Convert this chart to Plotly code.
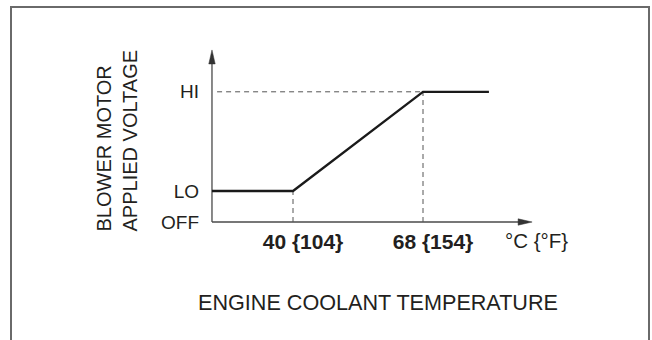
import plotly.graph_objects as go

# Blower motor voltage vs. engine coolant temperature (schematic)
level_names = ["OFF", "LO", "HI"]
level_values = [0, 1, 4.2]

break_c = [40, 68]          # breakpoints, deg C
break_f = [104, 154]        # same breakpoints, deg F

curve_x = [22.55, 40, 68, 82.2]
curve_y = [1, 1, 4.2, 4.2]

AXIS_X0 = 22.55             # where the two axis arrows meet
X_ARROW_END = 91.5
Y_ARROW_END = 5.55

W, H = 652, 340
PL, PR, PT, PB = 200, 545, 40, 227      # plot area in pixels
X_PER_PX = 1 / 4.643                    # data units per pixel
Y_PER_PX = 1 / 31.0
X_RANGE = [40 - (293 - PL) * X_PER_PX, 40 + (PR - 293) * X_PER_PX]
Y_RANGE = [-(PB - 222) * Y_PER_PX, (222 - PT) * Y_PER_PX]

HEAD_LEN, HEAD_HALF = 14, 3.2           # arrowhead size in pixels

FONT = "Liberation Sans, Arial, Helvetica, sans-serif"
INK = "#231f20"
AXIS_INK = "#4a4a4a"


def px(xp):
    return (xp - PL) / (PR - PL)


def py(yp):
    return (PB - yp) / (PB - PT)


fig = go.Figure()

# axis lines
fig.add_trace(go.Scatter(
    x=[AXIS_X0, AXIS_X0, None, AXIS_X0, X_ARROW_END - HEAD_LEN * X_PER_PX * 0.5],
    y=[Y_ARROW_END - HEAD_LEN * Y_PER_PX * 0.5, 0, None, 0, 0],
    mode="lines", line=dict(color=AXIS_INK, width=1.3),
    hoverinfo="skip", showlegend=False,
))

# arrowheads
fig.add_trace(go.Scatter(
    x=[AXIS_X0, AXIS_X0 - HEAD_HALF * X_PER_PX, AXIS_X0 + HEAD_HALF * X_PER_PX, AXIS_X0],
    y=[Y_ARROW_END, Y_ARROW_END - HEAD_LEN * Y_PER_PX, Y_ARROW_END - HEAD_LEN * Y_PER_PX, Y_ARROW_END],
    mode="lines", fill="toself", fillcolor="#333333", line=dict(color="#333333", width=0.5),
    hoverinfo="skip", showlegend=False,
))
fig.add_trace(go.Scatter(
    x=[X_ARROW_END, X_ARROW_END - HEAD_LEN * X_PER_PX, X_ARROW_END - HEAD_LEN * X_PER_PX, X_ARROW_END],
    y=[0, HEAD_HALF * Y_PER_PX, -HEAD_HALF * Y_PER_PX, 0],
    mode="lines", fill="toself", fillcolor="#333333", line=dict(color="#333333", width=0.5),
    hoverinfo="skip", showlegend=False,
))

# dashed reference lines at the breakpoints
off_v, lo_v, hi_v = level_values
fig.add_trace(go.Scatter(
    x=[break_c[0], break_c[0], None, break_c[1], break_c[1], None, AXIS_X0 + 1.1, break_c[1]],
    y=[off_v, lo_v, None, off_v, hi_v, None, hi_v, hi_v],
    mode="lines", line=dict(color="#555555", width=1, dash="5px,4px"),
    hoverinfo="skip", showlegend=False,
))

# voltage characteristic
fig.add_trace(go.Scatter(
    x=curve_x, y=curve_y, mode="lines",
    line=dict(color="#1a1a1a", width=2.3),
    showlegend=False,
))

annotations = [
    # unit label
    dict(x=px(536), y=py(240), xref="paper", yref="paper", text="°C {°F}", showarrow=False,
         font=dict(family=FONT, size=20.5, color=INK), xanchor="center", yanchor="middle"),
    # axis titles
    dict(x=px(378), y=py(302), xref="paper", yref="paper", text="ENGINE COOLANT TEMPERATURE",
         showarrow=False, font=dict(family=FONT, size=21.6, color=INK),
         xanchor="center", yanchor="middle"),
    dict(x=px(116.5), y=py(141), xref="paper", yref="paper",
         text="BLOWER MOTOR<br>APPLIED VOLTAGE", textangle=-90, align="left",
         showarrow=False, font=dict(family=FONT, size=20, color=INK),
         xanchor="center", yanchor="middle"),
]

fig.update_layout(
    width=W, height=H,
    margin=dict(l=PL, r=W - PR, t=PT, b=H - PB),
    paper_bgcolor="white", plot_bgcolor="white",
    font=dict(family=FONT, color=INK),
    annotations=annotations,
    shapes=[dict(type="rect", xref="paper", yref="paper",
                 x0=px(11), x1=px(649), y0=py(350), y1=py(7),
                 line=dict(color="#6a6a6a", width=2), fillcolor="rgba(0,0,0,0)")],
    xaxis=dict(
        range=X_RANGE, showgrid=False, zeroline=False, showline=False,
        tickvals=break_c,
        ticktext=[f"<b>{c} {{{f}}}</b>" for c, f in zip(break_c, break_f)],
        ticks="", tickfont=dict(family=FONT, size=21, color=INK),
        ticklabelshift=10, ticklabelstandoff=0,
    ),
    yaxis=dict(
        range=Y_RANGE, showgrid=False, zeroline=False, showline=False,
        tickvals=level_values, ticktext=level_names,
        ticks="", tickfont=dict(family=FONT, size=19, color=INK),
    ),
)

fig.write_html("out.html")
